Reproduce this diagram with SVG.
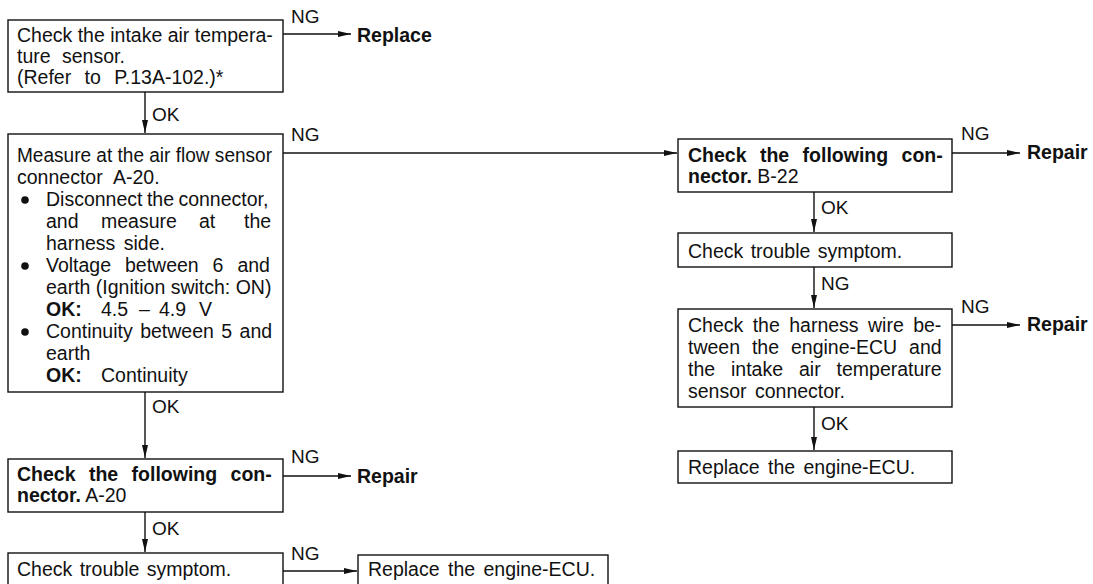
<svg xmlns="http://www.w3.org/2000/svg" width="1093" height="584" viewBox="0 0 1093 584">
  <style>
    .box { fill: #fff; stroke: #111; stroke-width: 1.4; }
    .t { font-family: "Liberation Sans", Arial, sans-serif; font-size: 19.5px; fill: #111; }
    .b { font-weight: bold; }
    .lbl { font-family: "Liberation Sans", Arial, sans-serif; font-size: 19px; fill: #111; }
    .wire { fill: none; stroke: #111; stroke-width: 1.4; }
    .dot { fill: #111; }
  </style>
  <defs>
    <marker id="arr" viewBox="0 0 13 8" refX="13" refY="4" markerWidth="13" markerHeight="8" markerUnits="userSpaceOnUse" orient="auto">
      <path d="M0,1 L13,4 L0,7 Z" fill="#111"/>
    </marker>
  </defs>
  <rect width="1093" height="584" fill="#fff"/>

  <!-- connectors with their OK / NG labels and end actions -->
  <g id="connectors">
    <path class="wire" d="M283,34 H351" marker-end="url(#arr)"/>
    <text class="lbl" x="291" y="23">NG</text>
    <text class="t b" x="357" y="42">Replace</text>

    <path class="wire" d="M145,92 V133" marker-end="url(#arr)"/>
    <text class="lbl" x="152" y="121">OK</text>

    <path class="wire" d="M283,153 H677" marker-end="url(#arr)"/>
    <text class="lbl" x="291" y="141">NG</text>

    <path class="wire" d="M145,392 V458" marker-end="url(#arr)"/>
    <text class="lbl" x="152" y="413">OK</text>

    <path class="wire" d="M283,476 H351" marker-end="url(#arr)"/>
    <text class="lbl" x="291" y="463">NG</text>
    <text class="t b" x="357" y="483">Repair</text>

    <path class="wire" d="M145,512 V552" marker-end="url(#arr)"/>
    <text class="lbl" x="152" y="535">OK</text>

    <path class="wire" d="M283,571 H357" marker-end="url(#arr)"/>
    <text class="lbl" x="291" y="560">NG</text>

    <path class="wire" d="M952,153 H1020" marker-end="url(#arr)"/>
    <text class="lbl" x="961" y="140">NG</text>
    <text class="t b" x="1027" y="159">Repair</text>

    <path class="wire" d="M814,192 V232" marker-end="url(#arr)"/>
    <text class="lbl" x="821" y="214">OK</text>

    <path class="wire" d="M814,267 V308" marker-end="url(#arr)"/>
    <text class="lbl" x="821" y="290">NG</text>

    <path class="wire" d="M952,325 H1020" marker-end="url(#arr)"/>
    <text class="lbl" x="961" y="313">NG</text>
    <text class="t b" x="1027" y="331">Repair</text>

    <path class="wire" d="M814,407 V450" marker-end="url(#arr)"/>
    <text class="lbl" x="821" y="430">OK</text>
  </g>

  <!-- intake air temperature sensor check -->
  <g id="n1">
    <rect class="box" x="8" y="20" width="275" height="72"/>
    <text class="t" x="17" y="42">Check the intake air tempera-</text>
    <text class="t" x="17" y="63" word-spacing="6">ture sensor.</text>
    <text class="t" x="17" y="84" word-spacing="8">(Refer to P.13A-102.)*</text>
  </g>

  <!-- measurement at air flow sensor connector A-20 -->
  <g id="n2">
    <rect class="box" x="8" y="134" width="275" height="258"/>
    <text class="t" x="17" y="162" textLength="255" lengthAdjust="spacingAndGlyphs">Measure at the air flow sensor</text>
    <text class="t" x="17" y="184" word-spacing="6">connector A-20.</text>
    <circle class="dot" cx="25" cy="200" r="3.8"/>
    <text class="t" x="46" y="206" word-spacing="-1">Disconnect the connector,</text>
    <text class="t" x="46" y="228"><tspan>and</tspan><tspan x="101">measure</tspan><tspan x="199">at</tspan><tspan x="244">the</tspan></text>
    <text class="t" x="46" y="250" word-spacing="3">harness side.</text>
    <circle class="dot" cx="25" cy="266" r="3.8"/>
    <text class="t" x="46" y="272" word-spacing="8.5">Voltage between 6 and</text>
    <text class="t" x="46" y="294">earth (Ignition switch: ON)</text>
    <text class="t" x="46" y="316"><tspan class="b">OK:</tspan><tspan x="101">4.5</tspan><tspan x="139">–</tspan><tspan x="159">4.9</tspan><tspan x="199">V</tspan></text>
    <circle class="dot" cx="25" cy="332" r="3.8"/>
    <text class="t" x="46" y="338" word-spacing="2">Continuity between 5 and</text>
    <text class="t" x="46" y="360">earth</text>
    <text class="t" x="46" y="382"><tspan class="b">OK:</tspan><tspan x="101">Continuity</tspan></text>
  </g>

  <!-- connector A-20 check -->
  <g id="n3">
    <rect class="box" x="8" y="459" width="275" height="53"/>
    <text class="t b" x="17" y="481" word-spacing="8">Check the following con-</text>
    <text class="t" x="17" y="502"><tspan class="b">nector.</tspan> A-20</text>
  </g>

  <!-- trouble symptom check, left branch -->
  <g id="n4">
    <rect class="box" x="8" y="553" width="275" height="40"/>
    <text class="t" x="17" y="576" word-spacing="2">Check trouble symptom.</text>
  </g>

  <!-- engine-ECU replacement, left branch -->
  <g id="n5">
    <rect class="box" x="358" y="555" width="250" height="40"/>
    <text class="t" x="368" y="576" word-spacing="3">Replace the engine-ECU.</text>
  </g>

  <!-- connector B-22 check -->
  <g id="n6">
    <rect class="box" x="678" y="139" width="274" height="53"/>
    <text class="t b" x="688" y="162" word-spacing="8">Check the following con-</text>
    <text class="t" x="688" y="183"><tspan class="b">nector.</tspan> B-22</text>
  </g>

  <!-- trouble symptom check, right branch -->
  <g id="n7">
    <rect class="box" x="678" y="233" width="274" height="34"/>
    <text class="t" x="688" y="258" word-spacing="2">Check trouble symptom.</text>
  </g>

  <!-- harness wire check -->
  <g id="n8">
    <rect class="box" x="678" y="309" width="274" height="98"/>
    <text class="t" x="688" y="332" word-spacing="4">Check the harness wire be-</text>
    <text class="t" x="688" y="354" word-spacing="6.5">tween the engine-ECU and</text>
    <text class="t" x="688" y="376" word-spacing="10.5">the intake air temperature</text>
    <text class="t" x="688" y="398" word-spacing="3">sensor connector.</text>
  </g>

  <!-- engine-ECU replacement, right branch -->
  <g id="n9">
    <rect class="box" x="678" y="451" width="274" height="32"/>
    <text class="t" x="688" y="474" word-spacing="3">Replace the engine-ECU.</text>
  </g>
</svg>
